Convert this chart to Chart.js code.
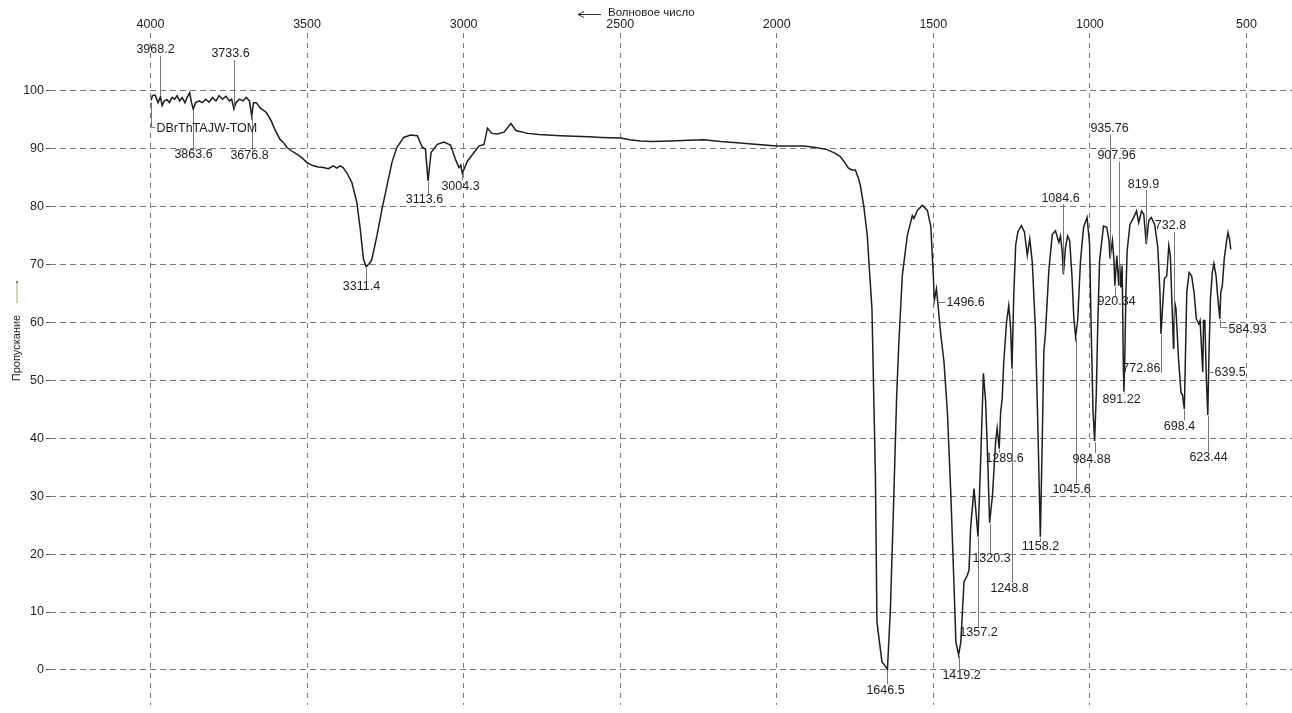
<!DOCTYPE html>
<html lang="ru">
<head>
<meta charset="utf-8">
<title>ИК-спектр DBrThTAJW-TOM</title>
<script src="https://cdn.jsdelivr.net/npm/chart.js@4.4.1/dist/chart.umd.min.js"></script>
<style>
  html, body { margin: 0; padding: 0; background: #fff; }
  #wrap { width: 1292px; height: 713px; }
</style>
</head>
<body>
<div id="wrap"><canvas id="irChart" width="1292" height="713"></canvas></div>
<script>
// Оси
const waveTicks = [4000, 3500, 3000, 2500, 2000, 1500, 1000, 500];
const transTicks = [0, 10, 20, 30, 40, 50, 60, 70, 80, 90, 100];

// Спектр (волновое число, см-1 / пропускание, %)
const wavenumber = [
  3998, 3994, 3985, 3976, 3968.2, 3963, 3956, 3947, 3940, 3931,
  3923, 3915, 3907, 3899, 3890, 3883, 3875, 3869, 3863.6, 3856,
  3845, 3835, 3824, 3813, 3802, 3791, 3781, 3770, 3759, 3748,
  3741, 3733.6, 3727, 3716, 3705, 3694, 3684, 3676.8, 3671, 3662,
  3650, 3630, 3615, 3603, 3587, 3575, 3565, 3550, 3533, 3517,
  3501, 3480, 3465, 3448, 3432, 3416, 3405, 3394, 3385, 3373,
  3357, 3341, 3330, 3320, 3311.4, 3300, 3293, 3277, 3261, 3245,
  3229, 3213, 3191, 3170, 3148, 3132, 3122, 3113.6, 3104, 3084,
  3063, 3042, 3026, 3015, 3009, 3004.3, 2988, 2967, 2951, 2935,
  2924, 2910, 2892, 2871, 2849, 2833, 2796, 2760, 2732, 2690,
  2646, 2600, 2560, 2497, 2470, 2434, 2400, 2340, 2280, 2233,
  2180, 2127, 2060, 2000, 1960, 1915, 1880, 1839, 1815, 1797,
  1782, 1771, 1760, 1749, 1740, 1733, 1722, 1711, 1704, 1696,
  1685, 1680, 1664, 1655, 1646.5, 1637, 1626, 1617, 1610, 1599,
  1583, 1567, 1562, 1551, 1535, 1519, 1508, 1500, 1496.6, 1490,
  1476, 1466, 1455, 1444, 1434, 1428, 1419.2, 1412, 1407, 1402,
  1391, 1386, 1381, 1370, 1357.2, 1349, 1340, 1333, 1326, 1320.3,
  1311, 1301, 1296, 1289.6, 1285, 1280, 1275, 1266, 1259, 1253,
  1248.8, 1243, 1237, 1230, 1219, 1209, 1200, 1192, 1184, 1174,
  1166, 1158.2, 1152, 1147, 1142, 1131, 1120, 1110, 1099, 1094,
  1088.5, 1084.6, 1078, 1071, 1064.5, 1057, 1051.5, 1045.6, 1039, 1030,
  1020, 1009, 1001, 996, 990, 984.88, 979.5, 975, 969, 956.5,
  946, 939, 935.76, 928, 923, 920.34, 914, 907.96, 905, 901,
  897, 893, 891.22, 888, 885, 881, 872, 860, 851, 844,
  835, 828, 819.9, 812, 804, 793, 783, 776, 772.86, 767,
  762, 754.5, 748, 743, 738, 732.8, 729, 725, 717, 709,
  704, 698.4, 695, 690.5, 683, 675, 667.5, 660, 652, 648,
  639.5, 637, 633, 628, 623.44, 620, 615, 609, 604, 597,
  592, 584.93, 582, 577, 571, 564, 559, 554, 550
];
const transmittance = [
  98.3, 99.1, 99.2, 97.9, 98.9, 97.4, 98.2, 98.4, 97.9, 98.8,
  98.5, 99.1, 98.2, 98.8, 97.9, 98.8, 99.6, 97.9, 96.8, 97.9,
  98.2, 97.9, 98.5, 98.0, 98.8, 98.2, 99.1, 98.5, 99.0, 98.2,
  98.5, 96.8, 97.9, 98.5, 98.2, 98.8, 98.2, 95.6, 97.9, 97.9,
  97.0, 96.2, 94.8, 93.3, 91.6, 91.0, 90.2, 89.6, 89.0, 88.4,
  87.6, 87.0, 86.8, 86.7, 86.5, 87.0, 86.6, 87.0, 86.7, 85.8,
  84.1, 80.7, 76.0, 70.9, 69.6, 70.2, 70.9, 74.9, 79.5, 83.5,
  87.6, 90.2, 91.9, 92.3, 92.2, 90.2, 89.9, 84.4, 89.3, 90.7,
  91.1, 90.6, 88.1, 86.7, 87.1, 85.7, 87.8, 89.3, 90.4, 90.7,
  93.5, 92.6, 92.5, 92.8, 94.3, 93.1, 92.6, 92.4, 92.3, 92.2,
  92.1, 92.0, 91.9, 91.8, 91.5, 91.3, 91.2, 91.3, 91.4, 91.5,
  91.2, 91.0, 90.7, 90.4, 90.4, 90.4, 90.2, 89.8, 89.2, 88.6,
  87.5, 86.6, 86.3, 86.3, 85.0, 83.6, 80.0, 75.0, 69.0, 62.4,
  33.6, 8.3, 1.4, 0.8, 0.1, 10.6, 30.2, 47.4, 56.6, 68.1,
  75.0, 78.4, 77.9, 79.3, 80.2, 79.3, 76.5, 68.0, 63.8, 65.8,
  57.8, 53.2, 44.5, 30.2, 14.7, 4.9, 2.6, 4.9, 10.1, 15.2,
  16.4, 17.2, 24.4, 31.3, 23.0, 35.9, 51.2, 46.3, 36.0, 25.4,
  30.2, 39.4, 41.7, 38.2, 44.5, 46.8, 53.2, 60.1, 62.9, 58.9,
  52.0, 64.7, 73.3, 75.6, 76.7, 75.6, 71.6, 74.4, 70.4, 58.9,
  41.7, 23.0, 40.0, 55.0, 58.0, 69.0, 75.2, 75.8, 73.8, 74.9,
  72.3, 68.3, 72.9, 74.9, 74.1, 67.8, 60.9, 57.5, 60.3, 70.6,
  76.4, 78.1, 73.5, 59.2, 44.8, 39.5, 47.7, 59.2, 70.6, 76.6,
  76.4, 74.1, 71.0, 74.1, 70.6, 66.3, 71.5, 66.3, 70.1, 66.0,
  69.8, 52.0, 48.0, 55.0, 64.9, 72.3, 76.9, 78.1, 79.2, 77.2,
  79.2, 78.7, 73.5, 77.5, 78.1, 76.9, 72.9, 64.9, 58.0, 63.4,
  67.5, 68.0, 73.2, 71.5, 63.4, 55.4, 63.4, 62.3, 53.7, 47.9,
  47.4, 45.0, 53.7, 65.2, 68.6, 68.0, 65.2, 60.6, 59.7, 60.3,
  51.4, 60.3, 60.3, 50.2, 44.0, 53.7, 64.0, 68.6, 70.1, 68.0,
  64.6, 60.6, 65.2, 66.3, 70.9, 73.8, 75.5, 74.4, 72.6
];

// Отмеченные пики
const peakWave = [
  3968.2, 3863.6, 3733.6, 3676.8, 3311.4, 3113.6, 3004.3, 1646.5, 1496.6, 1419.2,
  1357.2, 1320.3, 1289.6, 1248.8, 1158.2, 1084.6, 1045.6, 984.88, 935.76, 920.34,
  907.96, 891.22, 819.9, 772.86, 732.8, 698.4, 639.5, 623.44, 584.93
];
const peakT = [
  98.9, 96.8, 96.8, 95.6, 69.6, 84.4, 85.7, 0.1, 63.8, 2.6,
  23.0, 25.4, 38.2, 52.0, 23.0, 68.3, 57.5, 39.5, 71.0, 66.3,
  66.3, 48.0, 73.5, 58.0, 55.4, 45.0, 51.4, 44.0, 60.6
];
const sampleName = 'DBrThTAJW-TOM';

// Где стоит подпись относительно пика (пиксели)
const labelPlacement = [
  { kind: 'above', dx: -5, dy: -47 },   // 3968.2
  { kind: 'below', dx: 0, dy: 46 },     // 3863.6
  { kind: 'above', dx: -4, dy: -55 },   // 3733.6
  { kind: 'below', dx: -3, dy: 40 },    // 3676.8
  { kind: 'below', dx: -5, dy: 20 },    // 3311.4
  { kind: 'below', dx: -4, dy: 19 },    // 3113.6
  { kind: 'below', dx: -2, dy: 13 },    // 3004.3
  { kind: 'below', dx: -2, dy: 21 },    // 1646.5
  { kind: 'right', from: 4, to: 11, dy: 2 }, // 1496.6
  { kind: 'below', dx: 2, dy: 21 },     // 1419.2
  { kind: 'below', dx: 0, dy: 96 },     // 1357.2
  { kind: 'below', dx: 1, dy: 36 },     // 1320.3
  { kind: 'below', dx: 5, dy: 10 },     // 1289.6
  { kind: 'below', dx: -3, dy: 220 },   // 1248.8
  { kind: 'below', dx: 0, dy: 10 },     // 1158.2
  { kind: 'above', dx: -3, dy: -76 },   // 1084.6
  { kind: 'below', dx: -5, dy: 153 },   // 1045.6
  { kind: 'below', dx: -4, dy: 18 },    // 984.88
  { kind: 'above', dx: -1, dy: -130 },  // 935.76
  { kind: 'below', dx: 1, dy: 16 },     // 920.34
  { kind: 'above', dx: -3, dy: -130 },  // 907.96
  { kind: 'below', dx: -3, dy: 8 },     // 891.22
  { kind: 'above', dx: -3, dy: -60 },   // 819.9
  { kind: 'left', dy: 39 },             // 772.86
  { kind: 'above', dx: -4, dy: -123 },  // 732.8
  { kind: 'below', dx: -5, dy: 17 },    // 698.4
  { kind: 'right', from: 5, to: 10, dy: 0 }, // 639.5
  { kind: 'below', dx: 0, dy: 43 },     // 623.44
  { kind: 'elbow', dx: 7, dy: 8 }       // 584.93
];

const FONT = '"Liberation Sans", Arial, sans-serif';
const INK = '#1f1f1f';

const spectrum = wavenumber.map((w, i) => ({ x: w, y: transmittance[i] }));

const peakLabels = {
  id: 'peakLabels',
  afterDatasetsDraw(chart) {
    const { ctx, scales: { x, y } } = chart;
    const line = (x1, y1, x2, y2) => {
      ctx.beginPath(); ctx.moveTo(x1, y1); ctx.lineTo(x2, y2); ctx.stroke();
    };
    ctx.save();
    ctx.font = '12.5px ' + FONT;
    ctx.fillStyle = INK;
    ctx.strokeStyle = '#777';
    ctx.lineWidth = 1;
    ctx.textBaseline = 'middle';

    peakWave.forEach((w, i) => {
      const p = labelPlacement[i];
      const ax = Math.round(x.getPixelForValue(w)) + 0.5;
      const ay = y.getPixelForValue(peakT[i]);
      const text = String(w);
      if (p.kind === 'below' || p.kind === 'above') {
        const ly = ay + p.dy;
        ctx.textAlign = 'center';
        ctx.fillText(text, ax + p.dx, ly);
        if (p.kind === 'below' && ly - 6 > ay + 1) line(ax, ay + 1, ax, ly - 6);
        if (p.kind === 'above' && ly + 6 < ay - 1) line(ax, ly + 6, ax, ay - 1);
      } else if (p.kind === 'right') {
        const ly = Math.round(ay + p.dy) + 0.5;
        line(ax + p.from, ly, ax + p.to, ly);
        ctx.textAlign = 'left';
        ctx.fillText(text, ax + p.to + 1, ly);
      } else if (p.kind === 'elbow') {
        const ly = Math.round(ay + p.dy) + 0.5;
        line(ax, ay + 1, ax, ly);
        line(ax, ly, ax + p.dx, ly);
        ctx.textAlign = 'left';
        ctx.fillText(text, ax + p.dx + 1, ly + 2);
      } else if (p.kind === 'left') {
        line(ax, ay + 1, ax, ay + p.dy);
        ctx.textAlign = 'right';
        ctx.fillText(text, ax - 1, ay + p.dy - 4);
      }
    });

    // название образца со скобкой от начала кривой
    const sx = Math.round(x.getPixelForValue(wavenumber[0])) + 0.5;
    const sy = y.getPixelForValue(transmittance[0]);
    line(sx, sy + 2, sx, sy + 27);
    line(sx, sy + 27, sx + 4, sy + 27);
    ctx.textAlign = 'left';
    ctx.fillText(sampleName, sx + 5, sy + 28);
    ctx.restore();
  }
};

const axisTitles = {
  id: 'axisTitles',
  afterDraw(chart) {
    const { ctx } = chart;
    ctx.save();
    ctx.fillStyle = INK;
    ctx.strokeStyle = '#333';
    ctx.lineWidth = 1;
    // верх: стрелка влево + "Волновое число"
    ctx.beginPath();
    ctx.moveTo(578, 14.5); ctx.lineTo(601, 14.5);
    ctx.moveTo(578, 14.5); ctx.lineTo(584, 11.5);
    ctx.moveTo(578, 14.5); ctx.lineTo(584, 17.5);
    ctx.stroke();
    ctx.font = '11.5px ' + FONT;
    ctx.textAlign = 'left';
    ctx.textBaseline = 'middle';
    ctx.fillText('Волновое число', 608, 13);

    // слева: "Пропускание" снизу вверх и стрелка
    ctx.translate(17, 348);
    ctx.rotate(-Math.PI / 2);
    ctx.font = '11px ' + FONT;
    ctx.textAlign = 'center';
    ctx.fillText('Пропускание', 0, 0);
    ctx.strokeStyle = '#b3ab63';
    ctx.beginPath();
    ctx.moveTo(45, 0); ctx.lineTo(66, 0);
    ctx.stroke();
    ctx.fillStyle = '#8f8850';
    ctx.beginPath();
    ctx.arc(66, 0, 1.2, 0, Math.PI * 2);
    ctx.fill();
    ctx.restore();
  }
};

const gridStyle = { color: '#7a7a7a', lineWidth: 1 };

new Chart(document.getElementById('irChart').getContext('2d'), {
  type: 'line',
  data: {
    datasets: [{
      data: spectrum,
      borderColor: INK,
      borderWidth: 1.5,
      pointRadius: 0,
      tension: 0,
      fill: false
    }]
  },
  options: {
    responsive: false,
    animation: false,
    events: [],
    layout: { padding: { left: 0, right: 0, top: 0, bottom: 8 } },
    plugins: { legend: { display: false }, tooltip: { enabled: false } },
    scales: {
      x: {
        type: 'linear',
        position: 'top',
        reverse: true,
        min: 354.5,
        max: 4321,
        afterBuildTicks: s => { s.ticks = waveTicks.map(v => ({ value: v })); },
        afterFit: s => { s.height = 33; s.paddingLeft = 0; s.paddingRight = 0; },
        ticks: {
          font: { family: FONT, size: 12.5 },
          color: INK,
          padding: 1,
          maxRotation: 0,
          autoSkip: false,
          callback: v => String(v)
        },
        grid: { ...gridStyle, drawTicks: false },
        border: { display: false, dash: [5, 5] }
      },
      y: {
        min: -6.04,
        max: 109.92,
        afterBuildTicks: s => { s.ticks = transTicks.map(v => ({ value: v })); },
        afterFit: s => { s.width = 50; s.paddingTop = 0; s.paddingBottom = 0; },
        ticks: {
          font: { family: FONT, size: 12.5 },
          color: INK,
          padding: 2,
          callback: v => String(v)
        },
        grid: { ...gridStyle, drawTicks: true, tickLength: 4, tickColor: '#555', tickBorderDash: [] },
        border: { display: false, dash: [6, 4] }
      }
    }
  },
  plugins: [peakLabels, axisTitles]
});
</script>
</body>
</html>
